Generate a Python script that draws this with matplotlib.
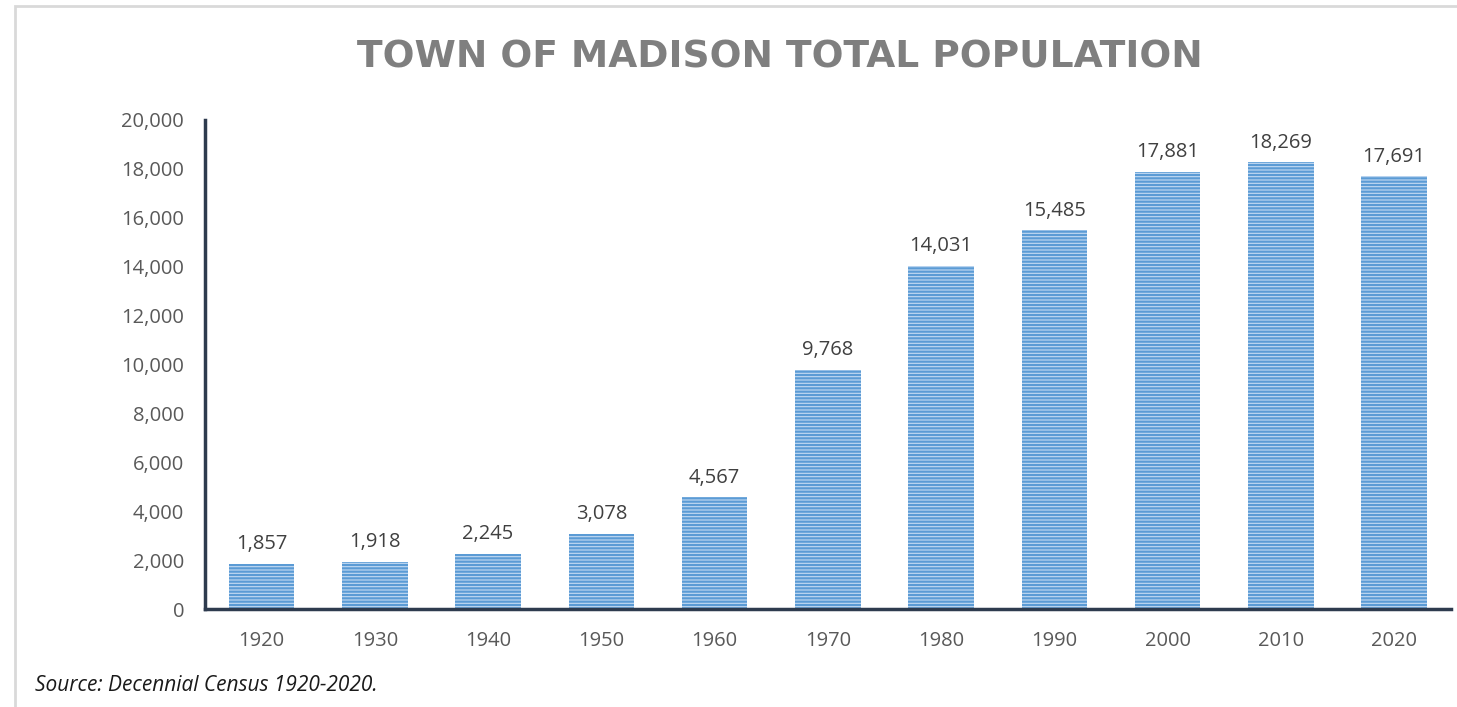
import matplotlib.pyplot as plt
from matplotlib.patches import Rectangle

years = ['1920', '1930', '1940', '1950', '1960', '1970', '1980', '1990', '2000', '2010', '2020']
population = [1857, 1918, 2245, 3078, 4567, 9768, 14031, 15485, 17881, 18269, 17691]
yticks = list(range(0, 20001, 2000))

plt.rcParams['font.family'] = ['Open Sans', 'DejaVu Sans']
plt.rcParams['hatch.linewidth'] = 1.6

fig = plt.figure(figsize=(14.57, 7.07), dpi=100)
ax = fig.add_axes([0.1407, 0.1386, 0.855, 0.6917])

x = list(range(len(years)))
ax.bar(x, population, width=0.58, color='#c4dbf3', edgecolor='#5b9bd5',
       hatch='-----', linewidth=0)

for xi, v in zip(x, population):
    ax.annotate(f'{v:,}', (xi, v), xytext=(0, 7), textcoords='offset points',
                ha='center', va='bottom', fontsize=14.5, color='#404040')

ax.set_xlim(-0.5, 10.5)
ax.set_ylim(0, 20000)
ax.set_yticks(yticks)
ax.set_yticklabels([f'{t:,}' for t in yticks])
ax.set_xticks(x)
ax.set_xticklabels(years)
ax.tick_params(length=0, labelsize=14.5, labelcolor='#595959')
ax.tick_params(axis='x', pad=16)
ax.tick_params(axis='y', pad=15)

for s in ['top', 'right']:
    ax.spines[s].set_visible(False)
for s in ['left', 'bottom']:
    ax.spines[s].set_color('#2e3b4e')
    ax.spines[s].set_linewidth(2.5)

fig.text(0.535, 0.919, 'TOWN OF MADISON TOTAL POPULATION', ha='center', va='center',
         fontsize=27, fontweight='bold', color='#7f7f7f', family=['DejaVu Sans'])
fig.text(0.024, 0.031, 'Source: Decennial Census 1920-2020.', ha='left', va='center',
         fontsize=15, style='italic', color='#1a1a1a')

# light frame at top and left
fig.patches.append(Rectangle((15 / 1457, -0.1), 1.2, 1.1 - 6 / 707, transform=fig.transFigure,
                             fill=False, edgecolor='#d9d9d9', linewidth=2))

fig.savefig('out.png', dpi=100)
